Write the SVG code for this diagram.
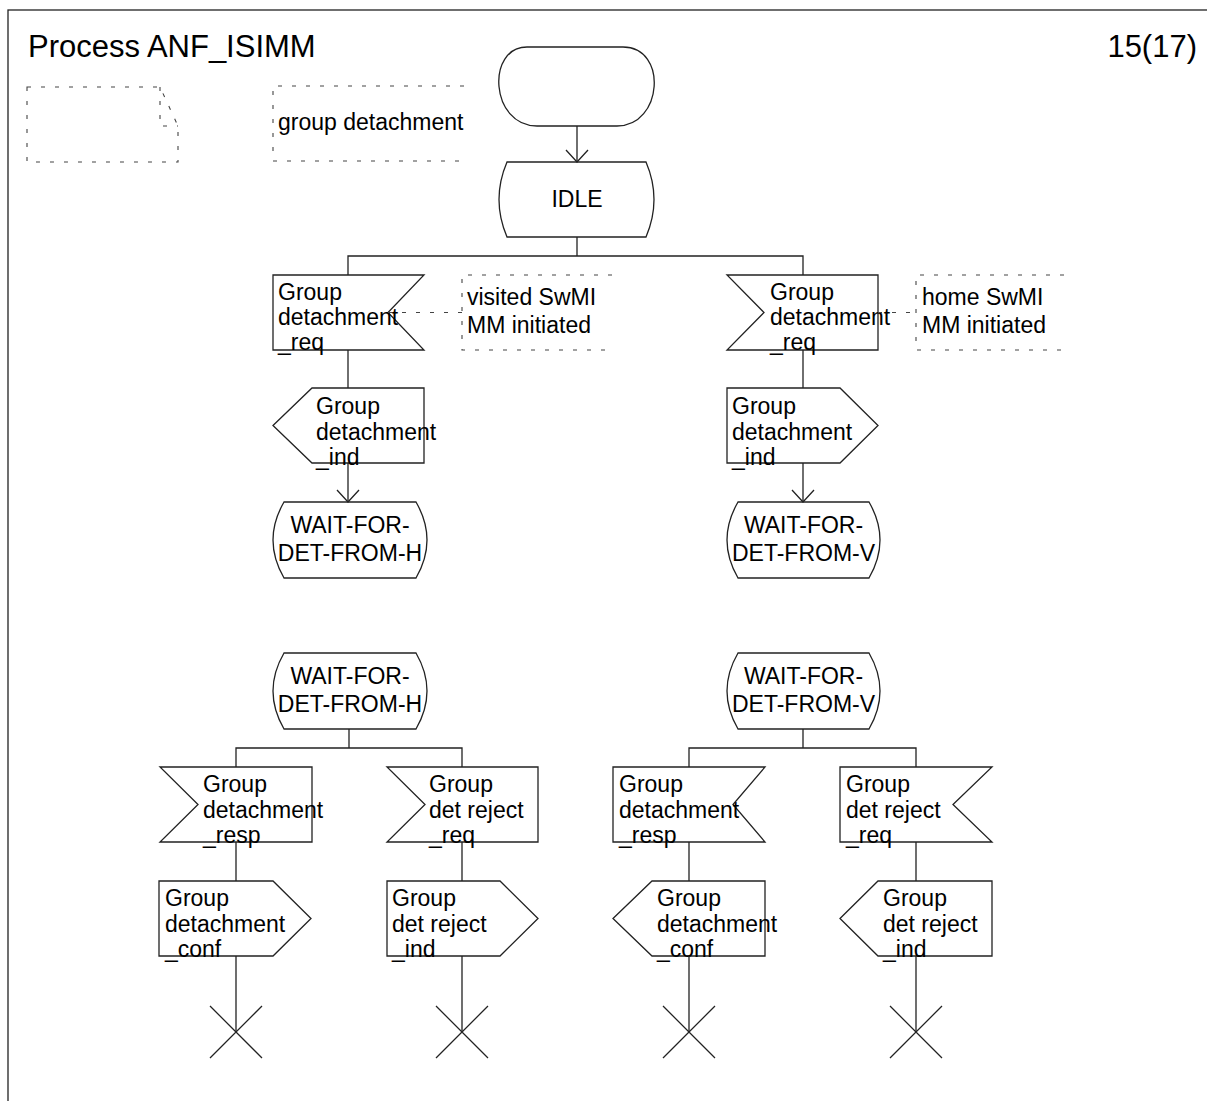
<svg xmlns="http://www.w3.org/2000/svg" width="1207" height="1101" viewBox="0 0 1207 1101">
<style>
  .sym { fill: none; stroke: #222; stroke-width: 1.3; }
  .dash { fill: none; stroke: #444; stroke-width: 1.1; stroke-dasharray: 4 10; }
  .ln { fill: none; stroke: #222; stroke-width: 1.3; }
  text { font-family: "Liberation Sans", Arial, sans-serif; font-size: 23px; fill: #000; }
  .title { font-size: 31px; }
  .mid { text-anchor: middle; }
</style>
<defs>
  <marker id="arr" markerUnits="userSpaceOnUse" markerWidth="30" markerHeight="30" refX="0" refY="0" orient="auto" overflow="visible">
    <path d="M-12,-11 L0,0 L-12,11" fill="none" stroke="#222" stroke-width="1.3"/>
  </marker>
</defs>
<rect x="8" y="10" width="1210" height="1100" fill="none" stroke="#222" stroke-width="1.3"/>
<text class="title" x="28" y="57">Process ANF_ISIMM</text>
<text class="title" x="1197" y="57" text-anchor="end">15(17)</text>

<g id="textsymbol">
  <path class="dash" d="M27,87 H160 L178,126 V162 H27 Z"/>
  <path class="dash" d="M160,87 V126 H178"/>
</g>
<g id="comment-group-detachment">
  <path class="dash" d="M464,86 H273 V161 H464"/>
  <text x="278" y="130">group detachment</text>
</g>
<g id="start">
  <path class="sym" d="M527,47 H623 C668,47 663,126 617,126 H537 C490,126 486,47 527,47 Z"/>
</g>
<g id="idle">
  <path class="sym" d="M507,162 H646 Q662,199.5 646,237 H507 Q491,199.5 507,162 Z"/>
  <text class="mid" x="577" y="207">IDLE</text>
</g>

<g id="in-visited">
  <path class="sym" d="M273,275 H424 L388,312.5 L424,350 H273 Z"/>
  <text x="278" y="300">Group</text>
  <text x="278" y="325">detachment</text>
  <text x="278" y="350">_req</text>
</g>
<g id="comment-visited">
  <path class="dash" d="M612,275 H462 V350 H612"/>
  <text x="467" y="305">visited SwMI</text>
  <text x="467" y="333">MM initiated</text>
</g>
<g id="in-home">
  <path class="sym" d="M727,275 H878 V350 H727 L764,312.5 Z"/>
  <text x="770" y="300">Group</text>
  <text x="770" y="325">detachment</text>
  <text x="770" y="350">_req</text>
</g>
<g id="comment-home">
  <path class="dash" d="M1064,275 H916 V350 H1064"/>
  <text x="922" y="305">home SwMI</text>
  <text x="922" y="333">MM initiated</text>
</g>
<g id="out-visited">
  <path class="sym" d="M273,425.5 L312,388 H424 V463 H312 Z"/>
  <text x="316" y="414">Group</text>
  <text x="316" y="440">detachment</text>
  <text x="316" y="465">_ind</text>
</g>
<g id="out-home">
  <path class="sym" d="M727,388 H840 L878,425.5 L840,463 H727 Z"/>
  <text x="732" y="414">Group</text>
  <text x="732" y="440">detachment</text>
  <text x="732" y="465">_ind</text>
</g>
<g id="wait-h-1">
  <path class="sym" d="M284,502 H416 Q438,540 416,578 H284 Q262,540 284,502 Z"/>
  <text class="mid" x="350" y="533">WAIT-FOR-</text>
  <text class="mid" x="350" y="561">DET-FROM-H</text>
</g>
<g id="wait-v-1">
  <path class="sym" d="M738,502 H869 Q891,540 869,578 H738 Q716,540 738,502 Z"/>
  <text class="mid" x="803.5" y="533">WAIT-FOR-</text>
  <text class="mid" x="803.5" y="561">DET-FROM-V</text>
</g>
<g id="wait-h-2">
  <path class="sym" d="M284,653 H416 Q438,691 416,729 H284 Q262,691 284,653 Z"/>
  <text class="mid" x="350" y="684">WAIT-FOR-</text>
  <text class="mid" x="350" y="712">DET-FROM-H</text>
</g>
<g id="wait-v-2">
  <path class="sym" d="M738,653 H869 Q891,691 869,729 H738 Q716,691 738,653 Z"/>
  <text class="mid" x="803.5" y="684">WAIT-FOR-</text>
  <text class="mid" x="803.5" y="712">DET-FROM-V</text>
</g>

<g id="in-resp-h">
  <path class="sym" d="M160,767 H312 V842 H160 L198,804.5 Z"/>
  <text x="203" y="792">Group</text>
  <text x="203" y="818">detachment</text>
  <text x="203" y="843">_resp</text>
</g>
<g id="in-rej-h">
  <path class="sym" d="M387,767 H538 V842 H387 L425,804.5 Z"/>
  <text x="429" y="792">Group</text>
  <text x="429" y="818">det reject</text>
  <text x="429" y="843">_req</text>
</g>
<g id="out-conf-h">
  <path class="sym" d="M159,881 H273 L311,918.5 L273,956 H159 Z"/>
  <text x="165" y="906">Group</text>
  <text x="165" y="932">detachment</text>
  <text x="165" y="957">_conf</text>
</g>
<g id="out-rej-h">
  <path class="sym" d="M387,881 H500 L538,918.5 L500,956 H387 Z"/>
  <text x="392" y="906">Group</text>
  <text x="392" y="932">det reject</text>
  <text x="392" y="957">_ind</text>
</g>
<g id="in-resp-v">
  <path class="sym" d="M613,767 H765 L733,804.5 L765,842 H613 Z"/>
  <text x="619" y="792">Group</text>
  <text x="619" y="818">detachment</text>
  <text x="619" y="843">_resp</text>
</g>
<g id="in-rej-v">
  <path class="sym" d="M840,767 H992 L953,804.5 L992,842 H840 Z"/>
  <text x="846" y="792">Group</text>
  <text x="846" y="818">det reject</text>
  <text x="846" y="843">_req</text>
</g>
<g id="out-conf-v">
  <path class="sym" d="M613,918.5 L652,881 H765 V956 H652 Z"/>
  <text x="657" y="906">Group</text>
  <text x="657" y="932">detachment</text>
  <text x="657" y="957">_conf</text>
</g>
<g id="out-rej-v">
  <path class="sym" d="M840,918.5 L878,881 H992 V956 H878 Z"/>
  <text x="883" y="906">Group</text>
  <text x="883" y="932">det reject</text>
  <text x="883" y="957">_ind</text>
</g>
<g id="stop-1"><path class="sym" d="M210,1006 L262,1058 M262,1006 L210,1058"/></g>
<g id="stop-2"><path class="sym" d="M436,1006 L488,1058 M488,1006 L436,1058"/></g>
<g id="stop-3"><path class="sym" d="M663,1006 L715,1058 M715,1006 L663,1058"/></g>
<g id="stop-4"><path class="sym" d="M890,1006 L942,1058 M942,1006 L890,1058"/></g>

<g id="connectors">
  <path class="ln" d="M577,126 V162" marker-end="url(#arr)"/>
  <path class="ln" d="M577,237 V256 M348,275 V256 H803 V275"/>
  <path class="ln" d="M348,350 V388"/>
  <path class="ln" d="M348,463 V502" marker-end="url(#arr)"/>
  <path class="ln" d="M803,350 V388"/>
  <path class="ln" d="M803,463 V502" marker-end="url(#arr)"/>
  <path class="dash" d="M388,312.5 H462"/>
  <path class="dash" d="M878,312.5 H916"/>
  <path class="ln" d="M349,729 V748 M236,767 V748 H462 V767"/>
  <path class="ln" d="M236,842 V881 M236,956 V1032"/>
  <path class="ln" d="M462,842 V881 M462,956 V1032"/>
  <path class="ln" d="M803,729 V748 M689,767 V748 H916 V767"/>
  <path class="ln" d="M689,842 V881 M689,956 V1032"/>
  <path class="ln" d="M916,842 V881 M916,956 V1032"/>
</g>
</svg>
